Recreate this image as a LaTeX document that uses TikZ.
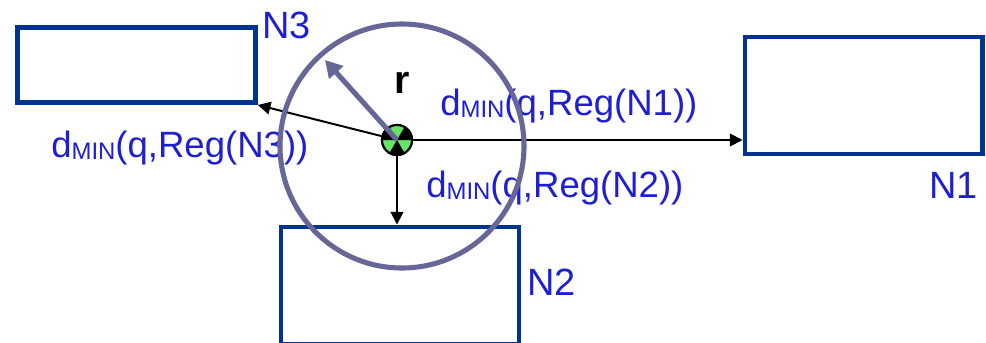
\documentclass[tikz,border=0pt]{standalone}
\usepackage{fontspec}
\setmainfont{Liberation Sans}
\usetikzlibrary{arrows.meta}
\definecolor{nodeblue}{RGB}{0,51,141}
\definecolor{textblue}{RGB}{30,30,210}
\definecolor{rangegray}{RGB}{102,102,153}
\definecolor{ptgreen}{RGB}{102,230,102}
\newcommand{\dmin}[1]{d\raisebox{-1.5pt}{\fontsize{17}{17}\selectfont MIN}(q,Reg(#1))}

\begin{document}
\begin{tikzpicture}[x=0.025cm, y=-0.025cm,
  region/.style={draw=nodeblue, line width=3.5pt, inner sep=0pt},
  nlabel/.style={text=textblue, font=\fontsize{27}{30}\selectfont, inner sep=0pt},
  dist/.style={text=textblue, font=\fontsize{26}{30}\selectfont, inner sep=0pt},
  link/.style={draw=black, line width=1.4pt, -{Triangle[length=9pt,width=9pt]}},
  qpoint/.style={circle, draw=black, line width=1.5pt, fill=ptgreen, minimum size=0.75cm, inner sep=0pt,
    path picture={\foreach \a in {60,180,300}
      \fill[black] (path picture bounding box.center) -- ++(\a:20) arc[start angle=\a, end angle=\a+60, radius=20] -- cycle;}},
]
\clip (0,0) rectangle (986,342);

\node[region, minimum width=5.94cm, minimum height=1.875cm] (N3) at (136.5,65) {};
\node[region, minimum width=5.925cm, minimum height=2.925cm] (N1) at (863.5,95.5) {};
\node[region, minimum width=5.95cm, minimum height=2.925cm] (N2) at (400,285.5) {};

\node[nlabel, anchor=base west] (N3lbl) at (262,38) {N3};
\node[nlabel, anchor=base east] (N1lbl) at (978,198) {N1};
\node[nlabel, anchor=base west] (N2lbl) at (527,295) {N2};

\node[dist, anchor=base west] (d1) at (440,115) {\dmin{N1}};
\node[dist, anchor=base west] (d2) at (426,197) {\dmin{N2}};
\node[dist, anchor=base west] (d3) at (51,157) {\dmin{N3}};

\node[qpoint] (q) at (397,140) {};

\draw[link] (q) -- (q -| N1.west);
\draw[link] (q) -- (q |- N2.north);
\draw[link] (q) -- (N3.south east);

\coordinate (c) at (402,146);
\draw[rangegray, line width=3.6pt] (c) circle[radius=122];

\node[qpoint] at (q) {};
\coordinate (rtip) at (325,60);
\draw[rangegray, line width=3.6pt, -{Triangle[length=12pt,width=13pt]}] (q.center) -- (rtip);
\node[font=\fontsize{28}{30}\selectfont\bfseries, inner sep=0pt, anchor=base west] (rlbl) at (394,93) {r};

\end{tikzpicture}
\end{document}
